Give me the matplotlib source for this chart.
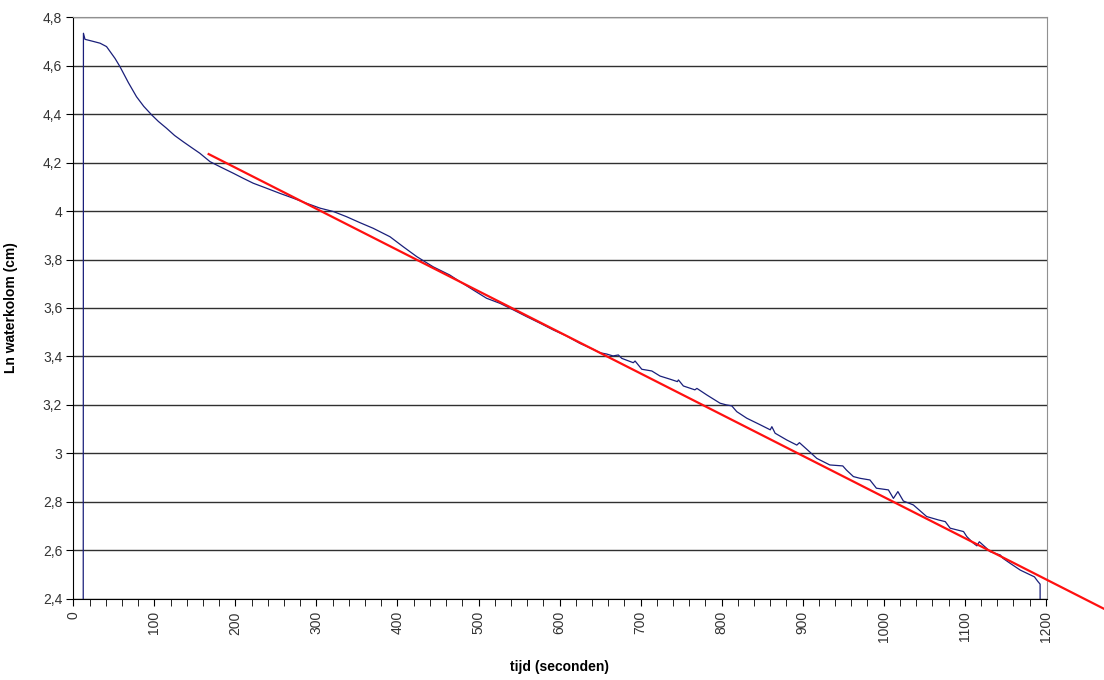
import matplotlib
matplotlib.use("Agg")
import matplotlib.pyplot as plt
from matplotlib.ticker import MultipleLocator, FuncFormatter

plt.rcParams['font.family'] = ['Liberation Sans', 'DejaVu Sans']

tijd = [12, 12.5, 14.4, 25, 33, 41, 51.5, 57.6, 68, 78, 87, 96.7, 105, 115, 125,
        135.7, 146, 156, 168.7, 181, 197.5, 209.8, 222, 238.7, 255, 271.5, 288,
        304.5, 321, 337, 353.8, 370, 390.8, 407, 423.8, 444, 464.6, 477, 493.6,
        510, 526.6, 543, 559.5, 576, 592.4, 608.9, 625, 641.7,
        650, 658, 666, 672.6, 676.8, 691, 693.2, 701.5, 713.8, 724, 736.4,
        745.4, 746.7, 752.8, 767, 769.5, 781.7, 798, 805.6, 812.5, 818.7, 831,
        847.5, 860, 862, 866, 880.4, 892.8, 896, 905, 917.5, 933.5, 949.5, 954,
        962.6, 970.6, 983, 991, 1005.8, 1012, 1017.5, 1024.3, 1036.6, 1053,
        1067.5, 1076, 1082, 1098.5, 1102.6, 1110.7, 1115, 1118, 1127, 1131.3,
        1144, 1147, 1156, 1168.5, 1181, 1186, 1190, 1193, 1193.5]
ln_h = [0.0, 4.734, 4.709, 4.700, 4.693, 4.679, 4.630, 4.596, 4.530, 4.472, 4.432,
        4.397, 4.370, 4.342, 4.312, 4.286, 4.262, 4.239, 4.204, 4.183, 4.156,
        4.135, 4.115, 4.094, 4.073, 4.053, 4.032, 4.012, 3.998, 3.977, 3.952,
        3.929, 3.894, 3.853, 3.812, 3.770, 3.736, 3.709, 3.674, 3.640, 3.619,
        3.592, 3.564, 3.537, 3.509, 3.484, 3.454, 3.429,
        3.415, 3.410, 3.402, 3.406, 3.392, 3.374, 3.381, 3.347, 3.340, 3.319,
        3.306, 3.296, 3.303, 3.278, 3.262, 3.268, 3.241, 3.207, 3.200, 3.196,
        3.172, 3.145, 3.118, 3.097, 3.110, 3.083, 3.055, 3.034, 3.044, 3.017,
        2.979, 2.952, 2.948, 2.931, 2.904, 2.897, 2.890, 2.856, 2.849, 2.814,
        2.842, 2.803, 2.787, 2.739, 2.725, 2.718, 2.691, 2.677, 2.656, 2.629,
        2.618, 2.635, 2.608, 2.594, 2.580, 2.567, 2.546, 2.518, 2.498, 2.490,
        2.472, 2.460, 0.0]

# linear trendline (forecast forward past the plot area)
trend_a = 4.519
trend_b = -0.001699
trend_t = [167, 1275]

fig = plt.figure(figsize=(11.04, 6.8), dpi=100)
ax = fig.add_axes([0.0664, 0.1196, 0.8816, 0.855])

ax.plot(tijd, ln_h, color='#1a1f7a', lw=0.9)
trend_y = [trend_a + trend_b * t for t in trend_t]
ax.plot(trend_t, trend_y, color='#ff1010', lw=1.6, clip_on=False, zorder=3)

ax.set_xlim(0, 1201)
ax.set_ylim(2.4, 4.8)
ax.xaxis.set_major_locator(MultipleLocator(100))
ax.xaxis.set_minor_locator(MultipleLocator(20))
ax.yaxis.set_major_locator(MultipleLocator(0.2))

comma = FuncFormatter(lambda v, p: ('%g' % round(v, 2)).replace('.', ','))
ax.yaxis.set_major_formatter(comma)
ax.xaxis.set_major_formatter(FuncFormatter(lambda v, p: '%d' % v))

ax.grid(axis='y', color='#303030', lw=1.0)
ax.set_axisbelow(True)

for s in ['top', 'right']:
    ax.spines[s].set_color('#909090')
for s in ['left', 'bottom']:
    ax.spines[s].set_color('black')

ax.tick_params(axis='y', direction='out', length=5, labelsize=10, labelcolor='#333333', pad=3)
ax.tick_params(axis='x', which='both', direction='out', length=5, labelsize=10,
               labelcolor='#333333', labelrotation=90, pad=4)

ax.set_xlabel('tijd (seconden)', fontsize=10, fontweight='bold')
ax.set_ylabel('Ln waterkolom (cm)', fontsize=10, fontweight='bold')
ax.xaxis.set_label_coords(0.5, -0.105)
ax.yaxis.set_label_coords(-0.057, 0.5)

fig.savefig('out.png', dpi=100)
